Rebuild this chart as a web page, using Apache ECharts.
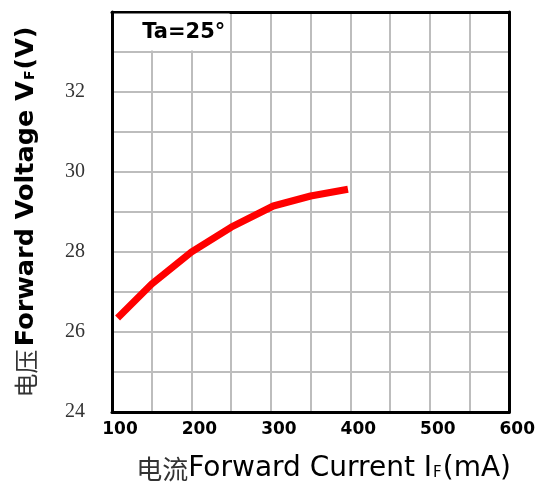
<!DOCTYPE html>
<html>
<head>
<meta charset="utf-8">
<script src="https://cdn.jsdelivr.net/npm/echarts@6/dist/echarts.min.js"></script>
<style>html,body{margin:0;padding:0;background:#fff;}#c{width:538px;height:491px;}</style>
</head>
<body>
<div id="c"></div>
<script>
const currentMA = [107, 150, 200, 250, 303, 350, 397];
const voltageV = [26.35, 27.2, 28.0, 28.62, 29.15, 29.4, 29.57];
const xTicks = [100, 200, 300, 400, 500, 600];
const yTicks = [24, 26, 28, 30, 32];
const noteText = 'Ta=25°';

const chart = echarts.init(document.getElementById('c'), null, {renderer: 'canvas'});
const gridColor = '#bdbdbd';
const enFont = '"DejaVu Sans", Verdana, sans-serif';
const cnFont = '"Noto Sans CJK SC", sans-serif';

chart.setOption({
  animation: false,
  backgroundColor: '#fff',
  grid: {left: 112, right: 26, top: 12, bottom: 79},
  xAxis: [{
    type: 'value', min: xTicks[0], max: xTicks[xTicks.length - 1], interval: 100,
    axisLine: {show: true, lineStyle: {color: '#000', width: 3}},
    axisTick: {show: false},
    splitLine: {show: true, lineStyle: {color: gridColor, width: 2}},
    minorTick: {show: false, splitNumber: 2},
    minorSplitLine: {show: true, lineStyle: {color: gridColor, width: 2}},
    axisLabel: {fontFamily: enFont, fontWeight: 'bold', fontSize: 17, color: '#000', margin: 9, padding: [0, 0, 0, 16]},
    name: '{cn|电流}{en|Forward Current I}{sub|F}{en|(mA)}',
    nameLocation: 'middle', nameGap: 43,
    nameTextStyle: {
      padding: [0, 0, 0, 26],
      rich: {
        cn: {fontFamily: cnFont, fontSize: 26, color: '#333'},
        en: {fontFamily: enFont, fontSize: 28, color: '#000'},
        sub: {fontFamily: enFont, fontSize: 15, color: '#000', verticalAlign: 'bottom', padding: [0, 1, 2, 1]}
      }
    }
  }, {
    type: 'value', position: 'top', min: xTicks[0], max: xTicks[xTicks.length - 1],
    axisLine: {show: true, onZero: false, lineStyle: {color: '#000', width: 3}},
    axisTick: {show: false}, axisLabel: {show: false}, splitLine: {show: false}
  }],
  yAxis: [{
    type: 'value', min: 24, max: 34, interval: 2,
    axisLine: {show: true, lineStyle: {color: '#000', width: 3}},
    axisTick: {show: false},
    splitLine: {show: true, lineStyle: {color: gridColor, width: 2}},
    minorTick: {show: false, splitNumber: 2},
    minorSplitLine: {show: true, lineStyle: {color: gridColor, width: 2}},
    axisLabel: {fontFamily: '"Liberation Serif", serif', fontSize: 20, color: '#333', margin: 27, showMaxLabel: false,
      formatter: v => (yTicks.indexOf(v) >= 0 ? String(v) : '')},
    name: '{cn|电压} {en|Forward Voltage V}{sub|F}{en|(V)}',
    nameLocation: 'middle', nameGap: 73, nameRotate: 90,
    nameTextStyle: {
      rich: {
        cn: {fontFamily: cnFont, fontSize: 24, color: '#333'},
        en: {fontFamily: enFont, fontWeight: 'bold', fontSize: 25.5, color: '#000'},
        sub: {fontFamily: enFont, fontWeight: 'bold', fontSize: 14, color: '#000', verticalAlign: 'bottom', padding: [0, 1, 2, 1]}
      }
    }
  }, {
    type: 'value', position: 'right', min: 24, max: 34,
    axisLine: {show: true, onZero: false, lineStyle: {color: '#000', width: 3}},
    axisTick: {show: false}, axisLabel: {show: false}, splitLine: {show: false}
  }],
  series: [{
    type: 'line',
    data: currentMA.map((x, i) => [x, voltageV[i]]),
    symbol: 'none',
    smooth: false,
    lineStyle: {color: '#ff0000', width: 7, cap: 'butt', join: 'round'},
    markArea: {
      silent: true,
      itemStyle: {color: '#fff'},
      label: {show: true, position: 'inside', offset: [12, 1], fontFamily: enFont, fontWeight: 'bold', fontSize: 21, color: '#000'},
      data: [[{xAxis: 102.5, yAxis: 33.96, name: noteText}, {xAxis: 248, yAxis: 33.04}]]
    }
  }]
});
</script>
</body>
</html>
